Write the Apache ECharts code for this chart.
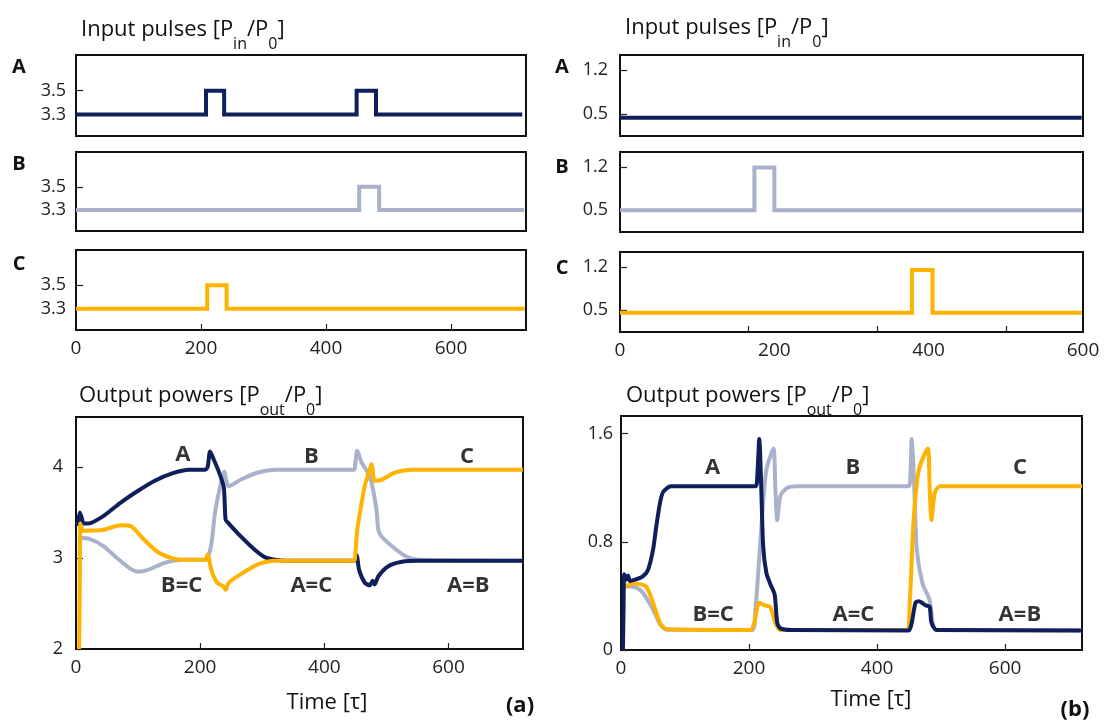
<!DOCTYPE html>
<html>
<head>
<meta charset="utf-8">
<script src="https://cdn.jsdelivr.net/npm/echarts@6/dist/echarts.min.js"></script>
<style>
html, body { margin: 0; padding: 0; background: #fff; }
#chart { width: 1106px; height: 724px; }
</style>
</head>
<body>
<div id="chart"></div>
<script>
var colA = '#0e1f5b', colB = '#a9b2ca', colC = '#ffb300';
var FONT = '"Open Sans", "Noto Sans", sans-serif';

// ---- data: [time (tau), power] ----
// input pulses, figure (a)
var inA_a = [[0, 3.3], [208, 3.3], [208, 3.5], [237, 3.5], [237, 3.3], [449, 3.3], [449, 3.5], [480, 3.5], [480, 3.3], [714, 3.3]];
var inB_a = [[0, 3.3], [453, 3.3], [453, 3.5], [485, 3.5], [485, 3.3], [717, 3.3]];
var inC_a = [[0, 3.3], [210, 3.3], [210, 3.5], [241, 3.5], [241, 3.3], [718, 3.3]];
// input pulses, figure (b)
var inA_b = [[0, 0.44], [718, 0.44]];
var inB_b = [[0, 0.5], [209, 0.5], [209, 1.19], [240, 1.19], [240, 0.5], [718, 0.5]];
var inC_b = [[0, 0.46], [454, 0.46], [454, 1.15], [486, 1.15], [486, 0.46], [718, 0.46]];

// output powers, figure (a)
var outA_a = [[3, 3.35], [6, 3.5], [9, 3.45], [12, 3.38], [20, 3.38], [44, 3.46], [72, 3.61], [100, 3.74], [127, 3.85], [155, 3.93],
  [182, 3.97], [208, 3.97], [212, 4.0], [216, 4.17], [222, 4.08], [230, 3.95], [238, 3.78], [241, 3.42], [246, 3.38], [265, 3.24],
  [288, 3.09], [304, 3.01], [321, 2.98], [340, 2.97], [448, 2.97], [452, 3.03], [456, 2.87], [465, 2.73], [473, 2.70], [478, 2.75],
  [481, 2.71], [487, 2.80], [503, 2.91], [525, 2.96], [553, 2.97], [720, 2.97]];
var outB_a = [[6, 3.22], [22, 3.21], [44, 3.13], [66, 3.0], [88, 2.88], [100, 2.85], [116, 2.87], [144, 2.95], [171, 2.98], [208, 2.98],
  [213, 3.02], [218, 3.15], [224, 3.5], [232, 3.78], [239, 3.95], [242, 3.85], [246, 3.79], [265, 3.86], [293, 3.94], [321, 3.97],
  [448, 3.97], [450, 4.05], [453, 4.18], [460, 4.05], [470, 3.94], [476, 3.83], [484, 3.53], [487, 3.31], [492, 3.24], [509, 3.13],
  [531, 3.02], [553, 2.98], [720, 2.97]];
var outC_a = [[5, 2.0], [6, 2.6], [7, 3.38], [9, 3.33], [11, 3.3], [44, 3.31], [72, 3.36], [88, 3.35], [110, 3.2], [133, 3.06],
  [160, 2.99], [188, 2.98], [208, 2.98], [212, 3.04], [218, 2.87], [227, 2.73], [237, 2.69], [241, 2.65], [246, 2.73], [265, 2.82],
  [293, 2.93], [321, 2.97], [448, 2.97], [450, 3.05], [453, 3.31], [460, 3.6], [465, 3.79], [473, 3.97], [476, 4.03], [479, 3.9],
  [481, 3.85], [492, 3.86], [514, 3.94], [542, 3.97], [720, 3.97]];

// output powers, figure (b)
var outA_b = [[3, 0], [4, 0.3], [5, 0.56], [8, 0.52], [11, 0.55], [14, 0.51], [22, 0.52], [33, 0.54], [42, 0.59], [50, 0.74],
  [55, 0.91], [61, 1.09], [66, 1.17], [78, 1.21], [100, 1.21], [210, 1.21], [213, 1.3], [216, 1.56], [219, 1.21], [222, 0.77],
  [227, 0.57], [233, 0.49], [240, 0.41], [244, 0.2], [249, 0.16], [266, 0.148], [449, 0.145], [454, 0.2], [460, 0.35], [465, 0.36],
  [476, 0.33], [482, 0.32], [485, 0.2], [493, 0.148], [720, 0.145]];
var outB_b = [[4, 0.47], [17, 0.47], [33, 0.43], [50, 0.3], [61, 0.19], [72, 0.15], [205, 0.148], [210, 0.3], [216, 0.69], [222, 1.09],
  [227, 1.33], [238, 1.49], [241, 1.2], [244, 0.96], [249, 1.14], [260, 1.2], [277, 1.21], [449, 1.21], [452, 1.3], [454, 1.56],
  [458, 1.21], [462, 0.74], [471, 0.49], [482, 0.37], [487, 0.2], [493, 0.148], [720, 0.145]];
var outC_b = [[4, 0.47], [22, 0.49], [39, 0.47], [50, 0.35], [61, 0.2], [72, 0.153], [202, 0.148], [208, 0.2], [216, 0.35], [224, 0.33],
  [233, 0.32], [241, 0.2], [249, 0.148], [446, 0.148], [451, 0.35], [457, 0.96], [465, 1.33], [479, 1.49], [482, 1.2], [485, 0.96],
  [490, 1.16], [498, 1.21], [720, 1.21]];

// labels inside the output plots
var notes_a = [['A', 172, 4.14], ['B', 379, 4.11], ['C', 630, 4.11], ['B=C', 170, 2.70], ['A=C', 379, 2.70], ['A=B', 632, 2.70]];
var notes_b = [['A', 143, 1.35], ['B', 362, 1.35], ['C', 623, 1.35], ['B=C', 144, 0.26], ['A=C', 363, 0.26], ['A=B', 623, 0.26]];

// tick values
var timeTicks = [200, 400, 600];
var timeLabels = [0, 200, 400, 600];
var inTicks_a = [3.3, 3.5];
var inTicks_b = [0.5, 1.2];
var outTicks_a = [2, 3, 4];
var outTicks_b = [0, 0.8, 1.6];

var myChart = echarts.init(document.getElementById('chart'));

var grids = [
  { left: 76, top: 55, width: 450, height: 81 },
  { left: 76, top: 152, width: 450, height: 79 },
  { left: 76, top: 250, width: 450, height: 80 },
  { left: 620, top: 55, width: 463, height: 81 },
  { left: 620, top: 152, width: 463, height: 80 },
  { left: 620, top: 252, width: 463, height: 80 },
  { left: 76, top: 417, width: 447, height: 232 },
  { left: 621, top: 416, width: 461, height: 234 }
];
grids.forEach(function (g) {
  g.show = true;
  g.borderColor = '#111';
  g.borderWidth = 2;
  g.backgroundColor = 'transparent';
});

function xAx(gi, showTicks, showLabels) {
  return {
    type: 'value', gridIndex: gi, min: 0, max: 720, position: 'bottom',
    axisLine: { show: false },
    splitLine: { show: false },
    axisTick: { show: showTicks, inside: true, length: 6, customValues: timeTicks, lineStyle: { color: '#222', width: 1.2 } },
    axisLabel: { show: showLabels, customValues: timeLabels, margin: 9, fontSize: 19, color: '#222', fontFamily: FONT }
  };
}
function yAx(gi, min, max, ticks, margin, digits) {
  return {
    type: 'value', gridIndex: gi, min: min, max: max,
    axisLine: { show: false },
    splitLine: { show: false },
    axisTick: { show: true, inside: true, length: 7, customValues: ticks, lineStyle: { color: '#222', width: 1.2 } },
    axisLabel: {
      customValues: ticks, margin: margin, fontSize: 18, color: '#222', fontFamily: FONT,
      formatter: function (v) { return v.toFixed(digits); }
    }
  };
}

var xAxes = [
  xAx(0, false, false), xAx(1, false, false), xAx(2, true, true),
  xAx(3, false, false), xAx(4, false, false), xAx(5, true, false),
  xAx(6, true, true), xAx(7, true, true)
];
// the bottom right input panel is labelled 0..600 across its full width
xAxes.push({
  type: 'value', gridIndex: 5, min: 0, max: 600, position: 'bottom',
  axisLine: { show: false }, axisTick: { show: false }, splitLine: { show: false },
  axisLabel: { customValues: timeLabels, margin: 9, fontSize: 19, color: '#222', fontFamily: FONT }
});

var yAxes = [
  yAx(0, 3.12, 3.8, inTicks_a, 10, 1), yAx(1, 3.12, 3.8, inTicks_a, 10, 1), yAx(2, 3.12, 3.8, inTicks_a, 10, 1),
  yAx(3, 0.15, 1.44, inTicks_b, 12, 1), yAx(4, 0.15, 1.44, inTicks_b, 12, 1), yAx(5, 0.15, 1.44, inTicks_b, 12, 1),
  yAx(6, 2, 4.55, outTicks_a, 13, 0), yAx(7, 0, 1.73, outTicks_b, 8, 1)
];
yAxes[7].axisLabel.formatter = function (v) { return v === 0 ? '0' : v.toFixed(1); };

function line(gi, data, color, smooth) {
  return {
    type: 'line', xAxisIndex: gi, yAxisIndex: gi, data: data,
    showSymbol: false, symbol: 'none',
    smooth: smooth ? 0.25 : false,
    lineStyle: { color: color, width: 4, join: smooth ? 'round' : 'miter', cap: 'butt' },
    silent: true, animation: false
  };
}
function notes(gi, list) {
  return {
    type: 'scatter', xAxisIndex: gi, yAxisIndex: gi, symbolSize: 1,
    itemStyle: { color: 'rgba(0,0,0,0)' },
    data: list.map(function (n) { return { name: n[0], value: [n[1], n[2]] }; }),
    label: { show: true, position: 'inside', formatter: '{b}', fontSize: 22, fontWeight: 'bold', color: '#000', fontFamily: FONT },
    silent: true, animation: false, z: 5
  };
}

var series = [
  line(0, inA_a, colA), line(1, inB_a, colB), line(2, inC_a, colC),
  line(3, inA_b, colA), line(4, inB_b, colB), line(5, inC_b, colC),
  line(6, outB_a, colB, true), line(6, outA_a, colA, true), line(6, outC_a, colC, true),
  line(7, outB_b, colB, true), line(7, outC_b, colC, true), line(7, outA_b, colA, true),
  notes(6, notes_a), notes(7, notes_b)
];

function txt(x, y, text, size, bold, align, rich) {
  return {
    type: 'text', x: x, y: y, silent: true,
    style: {
      text: text, fontSize: size, fontWeight: bold ? 'bold' : 'normal', fontFamily: FONT, fill: '#111',
      textAlign: align || 'left', textVerticalAlign: 'middle', align: align || 'left', verticalAlign: 'middle',
      rich: rich
    }
  };
}
var subRich = { s: { fontSize: 16, lineHeight: 16, padding: [17, 0, 0, 0], verticalAlign: 'top', fontFamily: FONT, fill: '#111' } };

var graphics = [
  txt(81, 30, 'Input pulses [P{s|in}/P{s|0}]', 22, false, 'left', subRich),
  txt(625, 28, 'Input pulses [P{s|in}/P{s|0}]', 22, false, 'left', subRich),
  txt(79, 396, 'Output powers [P{s|out}/P{s|0}]', 22, false, 'left', subRich),
  txt(626, 396, 'Output powers [P{s|out}/P{s|0}]', 22, false, 'left', subRich),
  txt(19, 67, 'A', 20, true, 'center'), txt(19, 164, 'B', 20, true, 'center'), txt(19, 264, 'C', 20, true, 'center'),
  txt(562, 67, 'A', 20, true, 'center'), txt(562, 167, 'B', 20, true, 'center'), txt(562, 268, 'C', 20, true, 'center'),
  txt(327, 703, 'Time [τ]', 22, false, 'center'), txt(871, 700, 'Time [τ]', 22, false, 'center'),
  txt(520, 706, '(a)', 22, true, 'center'), txt(1075, 710, '(b)', 22, true, 'center')
];

var option = {
  backgroundColor: '#fff',
  animation: false,
  grid: grids,
  xAxis: xAxes,
  yAxis: yAxes,
  series: series,
  graphic: graphics
};
myChart.setOption(option, true);
</script>
</body>
</html>
